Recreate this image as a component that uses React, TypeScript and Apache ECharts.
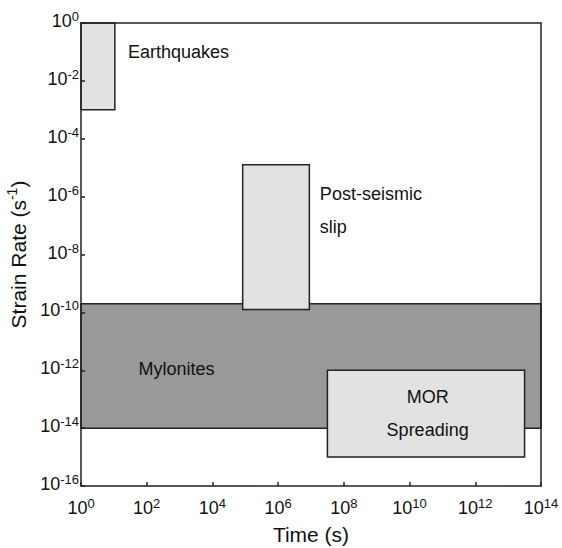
import React, { useEffect, useRef } from 'react';
import * as echarts from 'echarts';

// Axis ticks (exponents of 10)
const timeExponents = [0, 2, 4, 6, 8, 10, 12, 14];
const rateExponents = [-16, -14, -12, -10, -8, -6, -4, -2, 0];

// Regions (log10 values)
const regionNames = ['Mylonites', 'Earthquakes', 'Post-seismic slip', 'MOR Spreading'];
const regionTimeMin = [0, 0, 4.92, 7.5];
const regionTimeMax = [14, 1.03, 6.95, 13.5];
const regionRateMin = [-14, -3, -9.9, -15];
const regionRateMax = [-9.7, 0, -4.9, -12];

// Text annotations (log10 positions)
const labelTexts = ['Earthquakes', 'Post-seismic', 'slip', 'Mylonites', 'MOR', 'Spreading'];
const labelTime = [1.43, 7.27, 7.27, 2.91, 10.55, 10.55];
const labelRate = [-1.0, -5.9, -7.05, -11.96, -12.91, -14.06];
const labelAlign = ['left', 'left', 'left', 'center', 'center', 'center'];

const FONT = 'Liberation Sans, Arial, Helvetica, sans-serif';
const regionFill: Record<string, string> = {
  'Mylonites': '#999999',
  'Earthquakes': '#e2e2e2',
  'Post-seismic slip': '#e2e2e2',
  'MOR Spreading': '#e2e2e2',
};

const tickRich = {
  b: { fontSize: 18, fontFamily: FONT, color: '#111', lineHeight: 20, verticalAlign: 'bottom' },
  s: { fontSize: 13, fontFamily: FONT, color: '#111', lineHeight: 14, verticalAlign: 'top' },
};

export default function App() {
  const ref = useRef<HTMLDivElement>(null);
  useEffect(() => {
    document.body.style.margin = '0';
    const chart = echarts.init(ref.current!, null, { renderer: 'svg' });
    const regionData = regionNames.map((n, i) => [
      regionTimeMin[i], regionTimeMax[i], regionRateMin[i], regionRateMax[i], n,
    ]);
    const labelData = labelTexts.map((t, i) => [labelTime[i], labelRate[i], t, labelAlign[i]]);
    const fmt = (v: number) => `{b|10}{s|${v}}`;
    const xMin = timeExponents[0], xMax = timeExponents[timeExponents.length - 1];
    const yMin = rateExponents[0], yMax = rateExponents[rateExponents.length - 1];
    chart.setOption({
      animation: false,
      grid: { left: 81, right: 21, top: 23, bottom: 62, containLabel: false, outerBoundsMode: 'none' },
      xAxis: [
        {
          type: 'value', min: xMin, max: xMax, interval: 2, position: 'bottom', z: 10,
          name: 'Time (s)', nameLocation: 'middle', nameGap: 38,
          nameTextStyle: { fontSize: 21, fontFamily: FONT, color: '#111' },
          axisLine: { onZero: false, lineStyle: { color: '#222', width: 1.5 } },
          axisTick: { inside: true, length: 4, lineStyle: { color: '#222', width: 1.5 } },
          axisLabel: { formatter: fmt, rich: tickRich, margin: 11 },
          splitLine: { show: false },
        },
        {
          type: 'value', min: xMin, max: xMax, position: 'top', z: 10,
          axisLine: { show: true, onZero: false, lineStyle: { color: '#222', width: 1.5 } },
          axisTick: { show: false }, axisLabel: { show: false }, splitLine: { show: false },
        },
      ],
      yAxis: [
        {
          type: 'value', min: yMin, max: yMax, interval: 2, position: 'left', z: 10,
          name: '{a|Strain Rate (s}{s|-1}{a|)}', nameLocation: 'middle', nameGap: 50, nameRotate: 90,
          nameTextStyle: {
            rich: {
              a: { fontSize: 21, fontFamily: FONT, color: '#111', lineHeight: 24, verticalAlign: 'bottom' },
              s: { fontSize: 14, fontFamily: FONT, color: '#111', lineHeight: 16, verticalAlign: 'top' },
            },
          },
          axisLine: { show: true, onZero: false, lineStyle: { color: '#222', width: 1.5 } },
          axisTick: { show: true, inside: true, length: 4, lineStyle: { color: '#222', width: 1.5 } },
          axisLabel: { formatter: fmt, rich: tickRich, margin: 2, padding: [0, 0, 6, 0] },
          splitLine: { show: false },
        },
        {
          type: 'value', min: yMin, max: yMax, position: 'right', z: 10,
          axisLine: { show: true, onZero: false, lineStyle: { color: '#222', width: 1.5 } },
          axisTick: { show: false }, axisLabel: { show: false }, splitLine: { show: false },
        },
      ],
      series: [
        {
          type: 'custom',
          xAxisIndex: 0, yAxisIndex: 0,
          encode: { x: [0, 1], y: [2, 3] },
          data: regionData,
          renderItem: (params: any, api: any) => {
            const p0 = api.coord([api.value(0), api.value(3)]);
            const p1 = api.coord([api.value(1), api.value(2)]);
            const name = regionData[params.dataIndex][4] as string;
            return {
              type: 'rect',
              shape: { x: p0[0], y: p0[1], width: p1[0] - p0[0], height: p1[1] - p0[1] },
              style: { fill: regionFill[name], stroke: '#222', lineWidth: 1.5 },
            };
          },
        },
        {
          type: 'custom',
          xAxisIndex: 0, yAxisIndex: 0,
          encode: { x: 0, y: 1 },
          data: labelData,
          z: 5,
          renderItem: (params: any, api: any) => {
            const d = labelData[params.dataIndex];
            const p = api.coord([api.value(0), api.value(1)]);
            return {
              type: 'text',
              x: p[0], y: p[1],
              style: {
                text: d[2] as string,
                fill: '#111',
                font: `18px ${FONT}`,
                align: d[3] as string,
                verticalAlign: 'middle',
              },
            };
          },
        },
      ],
    });
    return () => chart.dispose();
  }, []);
  return <div ref={ref} style={{ width: 562, height: 548 }} />;
}
